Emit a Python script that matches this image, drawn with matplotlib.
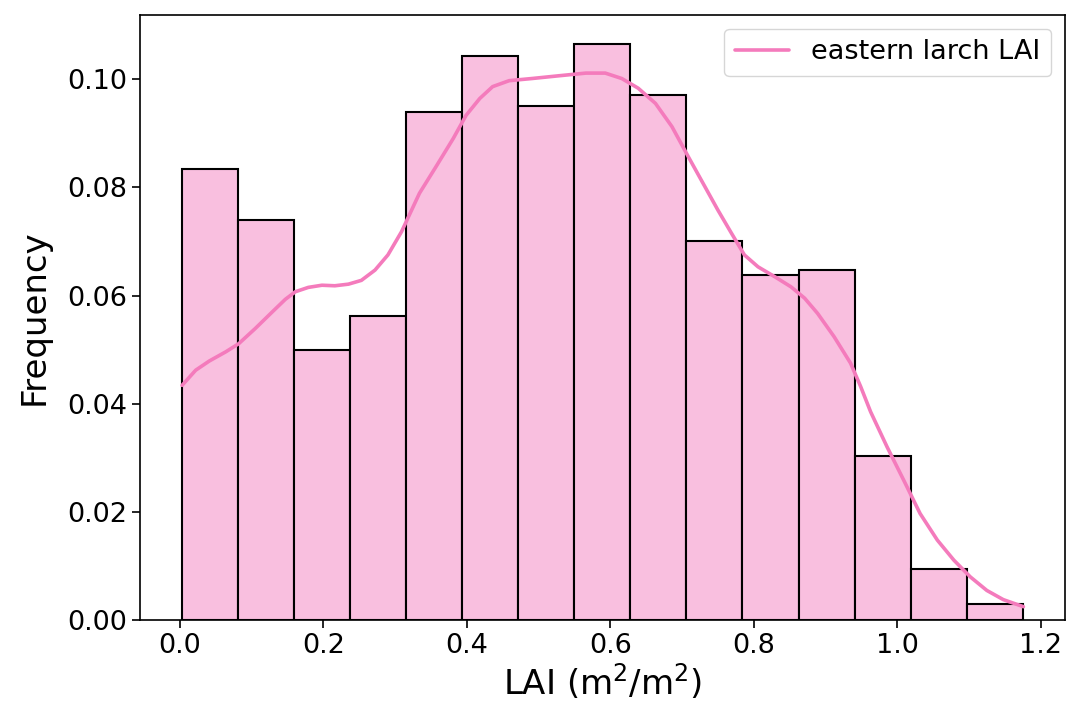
import matplotlib.pyplot as plt
import numpy as np

# histogram (probability per bin), 15 equal bins
bin_range = (0.003, 1.175)
probs = [0.0834, 0.0739, 0.0499, 0.0562, 0.0939, 0.1043, 0.0950, 0.1065,
         0.0971, 0.0701, 0.0637, 0.0648, 0.0303, 0.0094, 0.0030]

# kde curve
kde_x = [0.003, 0.022, 0.041, 0.064, 0.082, 0.105, 0.129, 0.147, 0.161, 0.179,
         0.198, 0.216, 0.235, 0.253, 0.272, 0.290, 0.309, 0.334, 0.357, 0.381,
         0.399, 0.418, 0.436, 0.459, 0.491, 0.528, 0.566, 0.593, 0.616, 0.639,
         0.663, 0.686, 0.709, 0.732, 0.750, 0.769, 0.787, 0.806, 0.829, 0.852,
         0.871, 0.889, 0.912, 0.935, 0.949, 0.963, 0.986, 1.009, 1.032, 1.056,
         1.079, 1.102, 1.125, 1.148, 1.176]
kde_y = [0.0434, 0.0462, 0.0479, 0.0496, 0.0511, 0.0539, 0.0570, 0.0593, 0.0607, 0.0615,
         0.0619, 0.0618, 0.0621, 0.0628, 0.0647, 0.0675, 0.0718, 0.0789, 0.0838, 0.0890,
         0.0933, 0.0964, 0.0986, 0.0997, 0.1001, 0.1006, 0.1011, 0.1011, 0.1001, 0.0983,
         0.0955, 0.0912, 0.0856, 0.0801, 0.0758, 0.0715, 0.0675, 0.0653, 0.0635, 0.0616,
         0.0595, 0.0567, 0.0524, 0.0475, 0.0432, 0.0385, 0.0320, 0.0259, 0.0197, 0.0148,
         0.0111, 0.0080, 0.0055, 0.0038, 0.0025]

line_color = '#F47BBC'
fill_color = '#F9BFDF'

fig = plt.figure(figsize=(10.69, 7.17), dpi=100)
ax = fig.add_axes([0.131, 0.135, 0.865, 0.844])

edges = np.linspace(bin_range[0], bin_range[1], len(probs) + 1)
ax.bar(edges[:-1], probs, width=np.diff(edges), align='edge',
       color=fill_color, edgecolor='black', linewidth=1.5, zorder=2)
ax.plot(kde_x, kde_y, color=line_color, linewidth=2.6, zorder=3,
        solid_capstyle='round', solid_joinstyle='round', label='eastern larch LAI')

span = bin_range[1] - bin_range[0]
ax.set_xlim(bin_range[0] - 0.05 * span, bin_range[1] + 0.05 * span)
ax.set_ylim(0, max(probs) * 1.05)
ax.set_xticks([0.0, 0.2, 0.4, 0.6, 0.8, 1.0, 1.2])
ax.set_yticks([0.0, 0.02, 0.04, 0.06, 0.08, 0.10])
ax.yaxis.set_major_formatter(plt.FormatStrFormatter('%.2f'))

ax.tick_params(labelsize=19.5, length=6, width=1.2)
for s in ax.spines.values():
    s.set_linewidth(1.2)

ax.set_xlabel(r'LAI (m$^2$/m$^2$)', fontsize=24.5, labelpad=2)
ax.set_ylabel('Frequency', fontsize=24.5, labelpad=12)
ax.legend(loc='upper right', fontsize=19.5)

fig.savefig('out.png', dpi=100)
